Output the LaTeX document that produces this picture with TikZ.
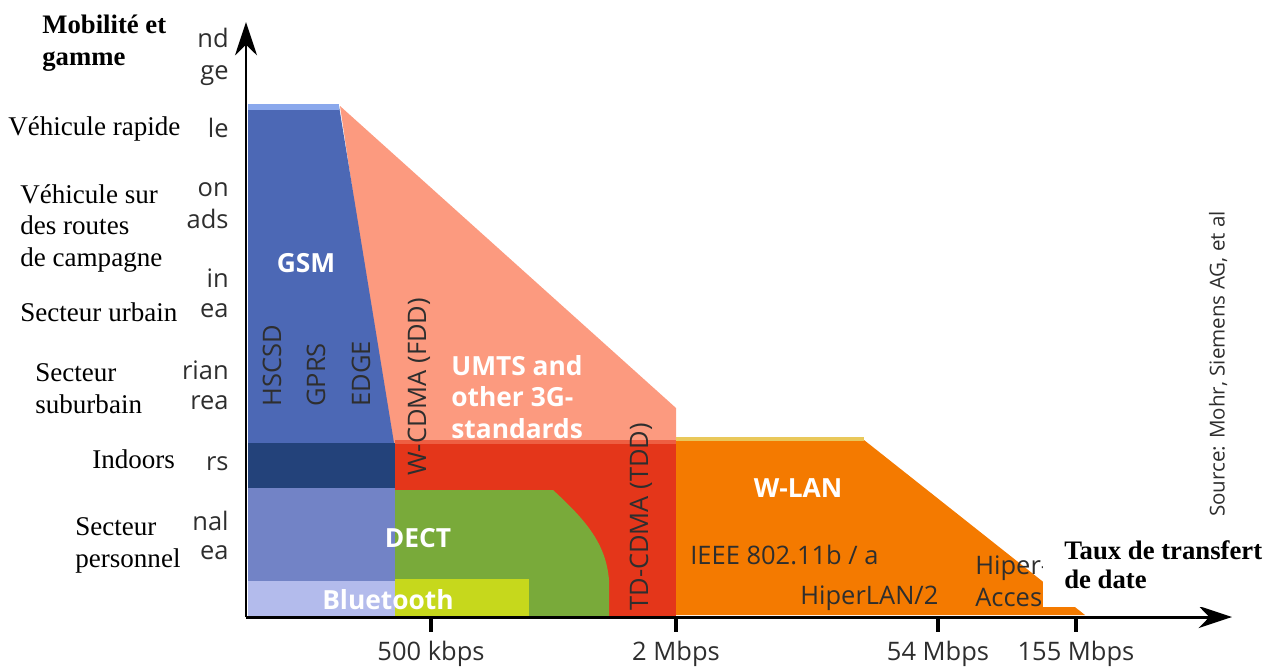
\documentclass[tikz,border=0pt]{standalone}
\usepackage{fontspec}
\setmainfont{Liberation Serif}
\newfontfamily\chartfont{Open Sans}
\usetikzlibrary{arrows.meta}

\definecolor{gsmBlue}{HTML}{4C68B5}
\definecolor{gsmTop}{HTML}{8AA8EC}
\definecolor{indoorBlue}{HTML}{23427A}
\definecolor{personalBlue}{HTML}{7283C6}
\definecolor{btLavender}{HTML}{B3BBEC}
\definecolor{umtsSalmon}{HTML}{FC9A7F}
\definecolor{tddRed}{HTML}{E4361A}
\definecolor{dectGreen}{HTML}{79AA3A}
\definecolor{btYellow}{HTML}{C6D81C}
\definecolor{wlanOrange}{HTML}{F47A00}
\definecolor{wlanTop}{HTML}{E9C85A}
\definecolor{inkGray}{HTML}{2E2E2E}

\begin{document}
\begin{tikzpicture}[
    x=0.02cm, y=-0.02cm,
    % 定义统一的样式
    axis_style/.style={line width=1.7pt, -{Stealth[length=19pt,width=12.5pt]}},
    tick_style/.style={line width=2pt},
    tick_label/.style={font=\chartfont\fontsize{14.5}{17}\selectfont, text=inkGray},
    band_label/.style={font=\chartfont\bfseries\fontsize{15}{17.9}\selectfont, text=white, align=left, inner sep=0},
    dark_label/.style={font=\chartfont\fontsize{14.5}{16}\selectfont, text=inkGray, inner sep=0},
    side_label/.style={dark_label, rotate=90, anchor=west},
    old_label/.style={dark_label, anchor=base east},
    fr_label/.style={font=\fontsize{15.4}{17.9}\selectfont, align=left, inner sep=0, anchor=base west}
]
    \useasboundingbox (0,0) rectangle (1274,666);

    % --- 绘制区域 ---
    % UMTS (先画, GSM 盖在上面)
    \fill[umtsSalmon] (340,106) -- (676,408) -- (676,443) -- (390,443) -- cycle;
    % GSM
    \fill[gsmBlue] (248,106) -- (339,106) -- (394,443) -- (248,443) -- cycle;
    \fill[gsmTop] (248,104) rectangle (339,110);

    % W-LAN
    \fill[wlanOrange] (676,440) -- (864,440) -- (1085,615) -- (676,615) -- cycle;
    \draw[wlanTop, line width=2.5pt] (676,439) -- (864,439);

    % Indoors
    \fill[indoorBlue] (248,443) rectangle (395,488);
    \fill[tddRed] (395,443) rectangle (676,617);
    \draw[tddRed!60!umtsSalmon, line width=2pt] (395,442) -- (676,442);

    % Personal area
    \fill[personalBlue] (248,488) rectangle (395,581);
    \fill[btLavender] (248,581) rectangle (395,617);

    % DECT
    \fill[dectGreen] (395,490) -- (553,490) .. controls (588,522) and (606,545) .. (609,580) -- (609,617) -- (395,617) -- cycle;
    \fill[btYellow] (395,579) rectangle (529,617);

    % --- 坐标轴 ---
    \coordinate (origin) at (246,617);
    \coordinate (ytip) at (246,22);
    \coordinate (xtip) at (1232,617);
    \draw[axis_style] (origin) -- (ytip);
    \draw[axis_style] (origin) -- (xtip);

    \foreach \x/\lbl/\nm in {431/500 kbps/tick500k, 676/2 Mbps/tick2M, 938/54 Mbps/tick54M, 1076/155 Mbps/tick155M} {
        \draw[tick_style] (\x,617) -- (\x,632);
        \node[tick_label, anchor=base] (\nm) at (\x,660) {\lbl};
    }

    % --- 标签 ---
    \node[band_label, anchor=center] (gsm) at (306,263) {GSM};
    \node[side_label] (hscsd) at (272,407) {HSCSD};
    \node[side_label] (gprs) at (316,407) {GPRS};
    \node[side_label] (edge) at (361,407) {EDGE};
    \node[side_label] (wcdma) at (419,476) {W-CDMA (FDD)};
    \node[side_label] (tdcdma) at (641,611) {TD-CDMA (TDD)};
    % 多行节点: base 取最后一行
    \node[band_label, anchor=base west] (umts) at (451,438) {UMTS and\\other 3G-\\standards};
    \node[band_label, anchor=center] (dect) at (418,538) {DECT};
    \node[band_label, anchor=center] (bluetooth) at (388,600) {Bluetooth};
    \node[band_label, anchor=center] (wlan) at (798,488) {W-LAN};
    \node[dark_label, anchor=base west] (ieee) at (690,564) {IEEE 802.11b / a};
    \node[dark_label, anchor=base west] (hiperlan) at (800,604) {HiperLAN/2};
    \node[dark_label, anchor=base west, align=left, font=\chartfont\fontsize{14.5}{18}\selectfont] (hiperaccess) at (975,606) {Hiper-\\Acces};

    \node[dark_label, rotate=90, anchor=center, font=\chartfont\fontsize{11.7}{13}\selectfont] (source) at (1218,364) {Source: Mohr, Siemens AG, et al};

    % 旧的英文标签 (只露出一部分)
    \foreach \txt/\yy [count=\i] in {nd/47, ge/79, le/137, on/196, ads/228, in/287, ea/317, rian/379, rea/409, rs/470, nal/530, ea/559} {
        \node[old_label] (old\i) at (229,\yy) {\txt};
    }

    % --- 法语标签 ---
    \node[fr_label, font=\bfseries\fontsize{15.2}{18}\selectfont] (mobilite) at (42,65) {Mobilité et\\gamme};
    \node[fr_label] (rapide) at (8,135) {Véhicule rapide};
    \node[fr_label] (campagne) at (20,266) {Véhicule sur\\des routes\\de campagne};
    \node[fr_label] (urbain) at (20,321) {Secteur urbain};
    \node[fr_label] (suburbain) at (35,413) {Secteur\\suburbain};
    \node[fr_label] (indoors) at (92,468) {Indoors};
    \node[fr_label] (personnel) at (75,567) {Secteur\\personnel};

    \fill[white] (1043,525) rectangle (1252,607);
    \node[fr_label, font=\bfseries\fontsize{15.2}{16.5}\selectfont] (taux) at (1064,588) {Taux de transfert\\de date};

\end{tikzpicture}
\end{document}
